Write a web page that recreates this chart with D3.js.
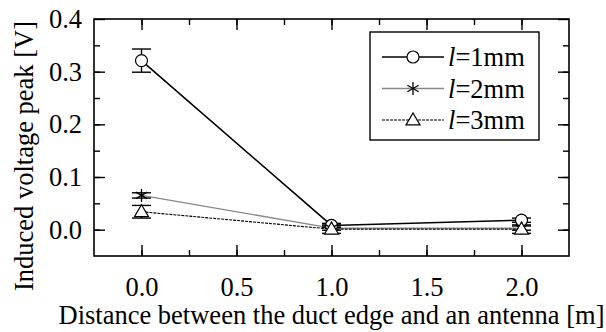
<!DOCTYPE html>
<html>
<head>
<meta charset="utf-8">
<script src="https://cdn.jsdelivr.net/npm/d3@7"></script>
<style>
  body { margin: 0; background: #fff; }
  svg { display: block; }
</style>
</head>
<body>
<svg id="chart" width="606" height="332"></svg>
<script>
// data
const distances = [0, 1, 2];
const seriesNames = ["1mm", "2mm", "3mm"];
const l1Values = [0.321, 0.008, 0.018];
const l1Errors = [0.022, 0.004, 0.004];
const l2Values = [0.065, 0.003, 0.003];
const l2Errors = [0.005, 0.004, 0.004];
const l3Values = [0.034, 0.001, 0.001];
const l3Errors = [0.012, 0.008, 0.008];
const xTicks = [0, 0.5, 1, 1.5, 2];
const yTicks = [0, 0.1, 0.2, 0.3, 0.4];

const svg = d3.select("#chart");
const plotLeft = 94, plotRight = 569, plotTop = 19, plotBottom = 256;
const fontSize = 26.5;
const serif = "'Liberation Serif', 'Times New Roman', Times, 'DejaVu Serif', serif";

const x = d3.scaleLinear().domain([-0.25, 2.25]).range([plotLeft, plotRight]);
const y = d3.scaleLinear().domain([-0.05, 0.4]).range([plotBottom, plotTop]);

const series = [
  { name: seriesNames[0], values: l1Values, errors: l1Errors, symbol: "circle", stroke: "#000", width: 1.6, dash: null },
  { name: seriesNames[1], values: l2Values, errors: l2Errors, symbol: "star", stroke: "#888", width: 1.3, dash: null },
  { name: seriesNames[2], values: l3Values, errors: l3Errors, symbol: "triangle", stroke: "#000", width: 1.1, dash: "3,1" }
];

// axes: major ticks labelled, minor ticks in between, all pointing inward
const xMinor = d3.range(-0.25, 2.26, 0.25).filter(v => v > -0.25 && v < 2.25);
const yMinor = d3.range(-0.05, 0.401, 0.05).filter(v => v > -0.04 && v < 0.39);

function tickFmt(v) { return d3.format(".1f")(v); }

function styleAxis(g) {
  g.select(".domain").remove();
  g.attr("font-family", serif).attr("font-size", fontSize);
}

// bottom
svg.append("g").attr("transform", `translate(0,${plotBottom})`)
  .call(d3.axisBottom(x).tickValues(xMinor).tickSize(-6).tickFormat(""))
  .call(styleAxis);
svg.append("g").attr("transform", `translate(0,${plotBottom})`)
  .call(d3.axisBottom(x).tickValues(xTicks).tickSize(-11).tickPadding(21).tickFormat(tickFmt))
  .call(styleAxis);
// top
svg.append("g").attr("transform", `translate(0,${plotTop})`)
  .call(d3.axisTop(x).tickValues(xMinor).tickSize(-6).tickFormat(""))
  .call(styleAxis);
svg.append("g").attr("transform", `translate(0,${plotTop})`)
  .call(d3.axisTop(x).tickValues(xTicks).tickSize(-11).tickFormat(""))
  .call(styleAxis);
// left
svg.append("g").attr("transform", `translate(${plotLeft},0)`)
  .call(d3.axisLeft(y).tickValues(yMinor).tickSize(-6).tickFormat(""))
  .call(styleAxis);
svg.append("g").attr("transform", `translate(${plotLeft},0)`)
  .call(d3.axisLeft(y).tickValues(yTicks).tickSize(-11).tickPadding(12).tickFormat(tickFmt))
  .call(styleAxis);
// right
svg.append("g").attr("transform", `translate(${plotRight},0)`)
  .call(d3.axisRight(y).tickValues(yMinor).tickSize(-6).tickFormat(""))
  .call(styleAxis);
svg.append("g").attr("transform", `translate(${plotRight},0)`)
  .call(d3.axisRight(y).tickValues(yTicks).tickSize(-11).tickFormat(""))
  .call(styleAxis);

svg.selectAll(".tick line").attr("stroke", "#000").attr("stroke-width", 1.4);

// frame
svg.append("rect")
  .attr("x", plotLeft).attr("y", plotTop)
  .attr("width", plotRight - plotLeft).attr("height", plotBottom - plotTop)
  .attr("fill", "none").attr("stroke", "#000").attr("stroke-width", 1.6);

// markers
function drawSymbol(g, type, cx, cy) {
  if (type === "circle") {
    g.append("circle").attr("cx", cx).attr("cy", cy).attr("r", 6)
      .attr("fill", "#fff").attr("stroke", "#000").attr("stroke-width", 1.2);
  } else if (type === "star") {
    const r = 6.5;
    [90, 30, -30].forEach(a => {
      const rad = a * Math.PI / 180;
      g.append("line")
        .attr("x1", cx - r * Math.cos(rad)).attr("y1", cy - r * Math.sin(rad))
        .attr("x2", cx + r * Math.cos(rad)).attr("y2", cy + r * Math.sin(rad))
        .attr("stroke", "#000").attr("stroke-width", 1.3);
    });
  } else {
    const s = 7;
    g.append("path")
      .attr("d", `M${cx},${cy - s}L${cx + s},${cy + s * 0.7}L${cx - s},${cy + s * 0.7}Z`)
      .attr("fill", "#fff").attr("stroke", "#000").attr("stroke-width", 1.2);
  }
}

const line = d3.line().x(d => x(d[0])).y(d => y(d[1]));

// lines first
series.forEach(s => {
  svg.append("path")
    .datum(distances.map((d, i) => [d, s.values[i]]))
    .attr("d", line)
    .attr("fill", "none")
    .attr("stroke", s.stroke)
    .attr("stroke-width", s.width)
    .attr("stroke-dasharray", s.dash);
});

// error bars
series.forEach(s => {
  const g = svg.append("g").attr("stroke", "#000").attr("stroke-width", 1.4);
  distances.forEach((d, i) => {
    const cx = x(d), lo = y(s.values[i] - s.errors[i]), hi = y(s.values[i] + s.errors[i]);
    g.append("line").attr("x1", cx).attr("x2", cx).attr("y1", lo).attr("y2", hi);
    g.append("line").attr("x1", cx - 9.5).attr("x2", cx + 9.5).attr("y1", lo).attr("y2", lo);
    g.append("line").attr("x1", cx - 9.5).attr("x2", cx + 9.5).attr("y1", hi).attr("y2", hi);
  });
});

// markers on top
series.forEach(s => {
  const g = svg.append("g");
  distances.forEach((d, i) => drawSymbol(g, s.symbol, x(d), y(s.values[i])));
});

// legend
const legend = svg.append("g").attr("font-family", serif).attr("font-size", fontSize);
legend.append("rect")
  .attr("x", 370).attr("y", 32).attr("width", 169).attr("height", 108)
  .attr("fill", "#fff").attr("stroke", "#000").attr("stroke-width", 1.4);
series.forEach((s, i) => {
  const ly = 57 + i * 31.5;
  legend.append("line")
    .attr("x1", 382).attr("x2", 444).attr("y1", ly).attr("y2", ly)
    .attr("stroke", s.stroke).attr("stroke-width", s.width)
    .attr("stroke-dasharray", s.dash);
  drawSymbol(legend, s.symbol, 413, ly);
  const t = legend.append("text")
    .attr("x", 448).attr("y", ly + 9);
  t.append("tspan").attr("font-style", "italic").text("l");
  t.append("tspan").text("=" + s.name);
});

// axis titles
svg.append("text")
  .attr("x", (plotLeft + plotRight) / 2).attr("y", 324)
  .attr("text-anchor", "middle")
  .attr("font-family", serif)
  .attr("font-size", fontSize)
  .text("Distance between the duct edge and an antenna [m]");

svg.append("text")
  .attr("transform", "translate(33,156) rotate(-90)")
  .attr("text-anchor", "middle")
  .attr("font-family", serif)
  .attr("font-size", fontSize)
  .text("Induced voltage peak [V]");
</script>
</body>
</html>
